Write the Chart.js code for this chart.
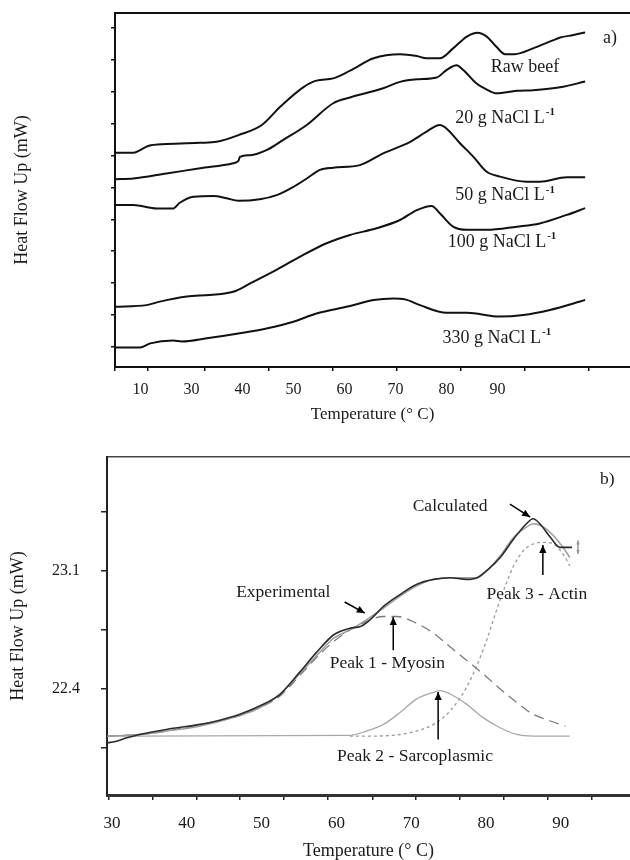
<!DOCTYPE html>
<html>
<head>
<meta charset="utf-8">
<script src="https://cdn.jsdelivr.net/npm/chart.js@4.4.1/dist/chart.umd.min.js"></script>
<style>
  html, body { margin: 0; padding: 0; background: #fff; overflow: hidden; }
  #wrapA { position: absolute; left: 0; top: 0; width: 630px; height: 440px; }
  #wrapB { position: absolute; left: 0; top: 440px; width: 630px; height: 428px; }
</style>
</head>
<body>
<div id="wrapA"><canvas id="chartA" width="630" height="440"></canvas></div>
<div id="wrapB"><canvas id="chartB" width="630" height="428"></canvas></div>
<script>
const FONT = "'Liberation Serif', 'Times New Roman', serif";
const INK = '#1a1a1a';

// ---- panel a) : DSC thermograms, raw beef and brined samples ----
const tRaw  = [15.0, 18.6, 21.5, 25.1, 31.7, 34.9, 39.2, 43.8, 47.4, 51.9, 54.5, 57.8, 61.1, 65.7, 70.9, 74.2, 76.1, 78.7, 81.3, 84.0, 86.1, 87.9, 89.8, 91.5, 93.4, 97.0, 101.0, 102.3, 104.9, 107.2];
const hfRaw = [6.72, 6.72, 6.93, 6.99, 7.03, 7.06, 7.27, 7.59, 8.16, 8.77, 8.98, 9.05, 9.29, 9.68, 9.81, 9.75, 9.68, 9.68, 9.99, 10.36, 10.48, 10.36, 10.04, 9.81, 9.81, 9.99, 10.25, 10.33, 10.41, 10.49];

const t20  = [15.0, 18.6, 25.1, 31.7, 38.2, 39.2, 39.5, 41.5, 44.7, 48.0, 52.6, 57.8, 61.1, 67.6, 70.9, 74.2, 78.1, 80.0, 82.0, 83.3, 85.9, 87.9, 89.8, 93.8, 97.0, 102.3, 107.2];
const hf20 = [5.89, 5.91, 6.07, 6.23, 6.39, 6.46, 6.59, 6.64, 6.80, 7.12, 7.59, 8.27, 8.45, 8.74, 8.94, 9.02, 9.08, 9.31, 9.46, 9.31, 8.89, 8.70, 8.58, 8.66, 8.68, 8.77, 8.95];

const t50  = [15.0, 18.6, 23.2, 26.4, 27.7, 30.4, 34.3, 36.9, 39.2, 43.4, 46.7, 50.0, 52.6, 55.2, 57.8, 63.0, 67.6, 72.9, 76.1, 78.7, 80.0, 82.7, 85.3, 87.9, 90.5, 95.7, 98.3, 103.6, 107.2];
const hf50 = [5.08, 5.08, 4.97, 4.97, 5.15, 5.34, 5.36, 5.29, 5.21, 5.26, 5.39, 5.65, 5.91, 6.18, 6.25, 6.33, 6.70, 7.06, 7.38, 7.59, 7.48, 7.01, 6.59, 6.12, 5.97, 5.81, 5.81, 5.95, 5.95];

const t100  = [15.0, 21.2, 23.8, 29.1, 33.6, 38.2, 41.5, 46.0, 51.3, 56.5, 61.1, 66.3, 70.9, 74.2, 77.1, 78.7, 81.3, 84.0, 87.9, 93.8, 98.3, 103.6, 107.2];
const hf100 = [1.89, 1.94, 2.05, 2.21, 2.26, 2.36, 2.62, 2.99, 3.46, 3.88, 4.14, 4.35, 4.61, 4.92, 5.05, 4.82, 4.40, 4.30, 4.30, 4.40, 4.50, 4.77, 4.98];

const t330  = [15.0, 19.9, 21.9, 26.4, 28.1, 33.0, 39.5, 44.7, 50.0, 54.5, 61.1, 65.7, 69.6, 71.9, 74.8, 80.0, 84.0, 90.5, 95.1, 100.3, 107.2];
const hf330 = [0.61, 0.61, 0.74, 0.83, 0.80, 0.90, 1.06, 1.21, 1.42, 1.68, 1.91, 2.10, 2.15, 2.12, 1.94, 1.70, 1.70, 1.58, 1.63, 1.79, 2.10];

// axis a): tick marks and the (oddly placed) tick labels of the original
const xTickMarksA = [15, 21.5, 32.6, 45.1, 57.7, 70.2, 82.8, 95.3, 107.9];
const xLabelPosA  = [20, 30, 40, 50, 60, 70, 80, 90];
const xLabelsA    = ['10', '30', '40', '50', '60', '70', '80', '90'];
const yTickMarksA = [0.63, 1.63, 2.63, 3.63, 4.63, 5.63, 6.63, 7.63, 8.63, 9.63, 10.63];

// ---- panel b) : deconvolution of the raw beef thermogram ----
const tExp  = [29.4, 30.6, 32.0, 33.7, 37.3, 41.8, 44.0, 47.1, 49.8, 52.5, 55.1, 57.4, 59.6, 61.8, 63.2, 64.5, 66.3, 68.5, 70.7, 73.0, 75.2, 77.4, 78.8, 80.3, 81.9, 83.7, 85.4, 86.3, 87.2, 88.6, 89.9, 91.5];
const hfExp = [22.08, 22.09, 22.11, 22.13, 22.16, 22.19, 22.21, 22.25, 22.30, 22.37, 22.50, 22.62, 22.72, 22.76, 22.77, 22.81, 22.89, 22.96, 23.02, 23.05, 23.06, 23.05, 23.06, 23.11, 23.18, 23.29, 23.38, 23.41, 23.38, 23.30, 23.24, 23.24];

const tCalc  = [29.4, 33.7, 37.3, 41.8, 46.2, 49.8, 52.5, 55.1, 57.4, 59.6, 61.8, 64.0, 66.3, 68.5, 70.7, 73.0, 75.2, 77.4, 78.8, 80.3, 81.9, 83.7, 85.4, 86.3, 87.7, 89.0, 90.3, 91.2];
const hfCalc = [22.12, 22.13, 22.15, 22.18, 22.23, 22.29, 22.37, 22.49, 22.60, 22.70, 22.75, 22.81, 22.88, 22.95, 23.01, 23.05, 23.06, 23.06, 23.06, 23.11, 23.19, 23.30, 23.36, 23.38, 23.36, 23.31, 23.24, 23.18];

const tMyo  = [29.4, 33.7, 37.3, 41.8, 46.2, 49.8, 52.5, 55.1, 57.4, 59.6, 61.8, 64.0, 66.3, 68.1, 70.7, 73.0, 75.2, 77.4, 79.6, 81.9, 84.1, 86.3, 88.6, 90.6];
const hfMyo = [22.12, 22.13, 22.15, 22.19, 22.23, 22.29, 22.36, 22.48, 22.59, 22.68, 22.75, 22.80, 22.83, 22.83, 22.79, 22.73, 22.65, 22.57, 22.49, 22.40, 22.32, 22.25, 22.21, 22.18];

const tSarc  = [29.4, 61.8, 64.0, 66.3, 68.5, 70.7, 73.0, 73.9, 75.2, 77.4, 79.6, 81.9, 84.1, 86.3, 91.2];
const hfSarc = [22.12, 22.125, 22.15, 22.19, 22.26, 22.34, 22.38, 22.39, 22.37, 22.31, 22.23, 22.17, 22.13, 22.12, 22.12];

const tAct  = [61.8, 64.0, 68.5, 70.7, 73.0, 75.2, 77.4, 79.6, 81.9, 83.7, 85.0, 86.3, 87.7, 89.0, 90.3, 91.2];
const hfAct = [22.12, 22.12, 22.13, 22.15, 22.19, 22.27, 22.41, 22.63, 22.93, 23.13, 23.22, 23.26, 23.27, 23.26, 23.20, 23.13];

const xTickMarksB = [29.5, 35.4, 41.3, 47.1, 53.0, 58.9, 64.8, 70.6, 76.5, 82.4, 88.3, 94.2];
const xLabelsB    = [30, 40, 50, 60, 70, 80, 90];
const yTickMarksB = [22.05, 22.4, 22.75, 23.1, 23.45];
const yLabelsB    = [22.4, 23.1];

const pts = (xs, ys) => xs.map((x, i) => ({ x, y: ys[i] }));
const font = (size) => ({ family: FONT, size });

/**
 * Plugin drawing the in-plot captions and arrows, positioned in data units.
 */
const annotate = (texts, arrows, size) => ({
    id: 'annot',
    afterDatasetsDraw(chart) {
        const { ctx, scales: { x, y } } = chart;
        ctx.save();
        ctx.textBaseline = 'middle';
        ctx.textAlign = 'left';
        texts.forEach(({ text, sup, tx, ty }) => {
            const px = x.getPixelForValue(tx), py = y.getPixelForValue(ty);
            ctx.font = `${size}px ${FONT}`;
            const w1 = ctx.measureText(text).width;
            ctx.font = `${Math.round(size * 0.62)}px ${FONT}`;
            const w2 = sup ? ctx.measureText(sup).width + 1 : 0;
            const left = px - (w1 + w2) / 2;
            ctx.fillStyle = INK;
            ctx.font = `${size}px ${FONT}`;
            ctx.fillText(text, left, py);
            if (sup) {
                ctx.font = `bold ${Math.round(size * 0.62)}px ${FONT}`;
                ctx.fillText(sup, left + w1 + 1, py - size * 0.3);
            }
        });
        arrows.forEach(({ x1, y1, x2, y2, color = '#000', both = false, head = 8 }) => {
            const a = [x.getPixelForValue(x1), y.getPixelForValue(y1)];
            const b = [x.getPixelForValue(x2), y.getPixelForValue(y2)];
            ctx.strokeStyle = color;
            ctx.fillStyle = color;
            ctx.lineWidth = 1.5;
            ctx.beginPath();
            ctx.moveTo(a[0], a[1]);
            ctx.lineTo(b[0], b[1]);
            ctx.stroke();
            const tip = (p, q) => {
                const ang = Math.atan2(p[1] - q[1], p[0] - q[0]);
                ctx.beginPath();
                ctx.moveTo(p[0], p[1]);
                ctx.lineTo(p[0] - head * Math.cos(ang) + head * 0.45 * Math.sin(ang), p[1] - head * Math.sin(ang) - head * 0.45 * Math.cos(ang));
                ctx.lineTo(p[0] - head * Math.cos(ang) - head * 0.45 * Math.sin(ang), p[1] - head * Math.sin(ang) + head * 0.45 * Math.cos(ang));
                ctx.closePath();
                ctx.fill();
            };
            tip(b, a);
            if (both) tip(a, b);
        });
        ctx.restore();
    }
});

const curve = (data, color, width, dash = []) => ({
    data, borderColor: color, borderWidth: width, borderDash: dash,
    pointRadius: 0, fill: false, cubicInterpolationMode: 'monotone'
});

// ---------------- chart a ----------------
new Chart(document.getElementById('chartA'), {
    type: 'line',
    data: {
        datasets: [
            curve(pts(tRaw, hfRaw), '#111', 2),
            curve(pts(t20, hf20), '#111', 2),
            curve(pts(t50, hf50), '#111', 2),
            curve(pts(t100, hf100), '#111', 2),
            curve(pts(t330, hf330), '#111', 2)
        ]
    },
    options: {
        responsive: false,
        animation: false,
        layout: { padding: { left: 7, top: 13, right: 0, bottom: 13 } },
        plugins: { legend: { display: false }, tooltip: { enabled: false } },
        scales: {
            x: {
                type: 'linear', position: 'bottom', min: 15, max: 116, weight: 0,
                afterBuildTicks: s => { s.ticks = xTickMarksA.map(value => ({ value })); },
                ticks: { display: false },
                grid: { drawOnChartArea: false, drawTicks: true, tickLength: 4, color: '#111', lineWidth: 1.5 },
                border: { display: true, color: '#111', width: 2 },
                afterFit: s => { s.height = 5; }
            },
            xl: {
                type: 'linear', position: 'bottom', min: 15, max: 116, weight: 1,
                afterBuildTicks: s => { s.ticks = xLabelPosA.map(value => ({ value })); },
                ticks: { callback: (v, i) => xLabelsA[i], font: font(16), color: INK, padding: 8, maxRotation: 0, autoSkip: false },
                grid: { display: false, drawTicks: false },
                border: { display: false },
                title: { display: true, text: 'Temperature (° C)', font: font(17), color: INK, padding: { top: 0, bottom: 2 } },
                afterFit: s => { s.height = 55; s.paddingLeft = 0; s.paddingRight = 0; }
            },
            xTop: {
                type: 'linear', position: 'top', min: 15, max: 116,
                ticks: { display: false },
                grid: { display: false, drawTicks: false },
                border: { display: true, color: '#111', width: 2 },
                afterFit: s => { s.height = 0; }
            },
            y: {
                type: 'linear', min: 0, max: 11.1,
                afterBuildTicks: s => { s.ticks = yTickMarksA.map(value => ({ value })); },
                ticks: { display: false },
                grid: { drawOnChartArea: false, drawTicks: true, tickLength: 4, color: '#111', lineWidth: 1.5 },
                border: { display: true, color: '#111', width: 2 },
                title: { display: true, text: 'Heat Flow Up (mW)', font: font(18), color: INK },
                afterFit: s => { s.width = 108; s.paddingTop = 0; s.paddingBottom = 0; }
            }
        }
    },
    plugins: [annotate([
        { text: 'a)', tx: 112.1, ty: 10.31 },
        { text: 'Raw beef', tx: 95.4, ty: 9.40 },
        { text: '20 g NaCl L', sup: '-1', tx: 91.5, ty: 7.81 },
        { text: '50 g NaCl L', sup: '-1', tx: 91.5, ty: 5.39 },
        { text: '100 g NaCl L', sup: '-1', tx: 90.9, ty: 3.92 },
        { text: '330 g NaCl L', sup: '-1', tx: 89.9, ty: 0.91 }
    ], [], 18)]
});

// ---------------- chart b ----------------
new Chart(document.getElementById('chartB'), {
    type: 'line',
    data: {
        datasets: [
            curve(pts(tExp, hfExp), '#2b2b2b', 1.6),
            curve(pts(tCalc, hfCalc), '#9c9c9c', 1.5),
            curve(pts(tMyo, hfMyo), '#7a7a7a', 1.3, [10, 6]),
            curve(pts(tSarc, hfSarc), '#a8a8a8', 1.3),
            curve(pts(tAct, hfAct), '#9a9a9a', 1.3, [3, 3])
        ]
    },
    options: {
        responsive: false,
        animation: false,
        layout: { padding: { left: 3, top: 17, right: 0, bottom: 4 } },
        plugins: { legend: { display: false }, tooltip: { enabled: false } },
        scales: {
            x: {
                type: 'linear', position: 'bottom', min: 29.33, max: 99.25, weight: 0,
                afterBuildTicks: s => { s.ticks = xTickMarksB.map(value => ({ value })); },
                ticks: { display: false },
                grid: { drawOnChartArea: false, drawTicks: true, tickLength: 5, color: '#222', lineWidth: 1.5 },
                border: { display: true, color: '#333', width: 3 },
                afterFit: s => { s.height = 5; }
            },
            xl: {
                type: 'linear', position: 'bottom', min: 29.33, max: 99.25, weight: 1,
                afterBuildTicks: s => { s.ticks = xLabelsB.map(value => ({ value })); },
                ticks: { callback: v => String(v), font: font(17), color: INK, padding: 13, maxRotation: 0, autoSkip: false },
                grid: { display: false, drawTicks: false },
                border: { display: false },
                title: { display: true, text: 'Temperature (° C)', font: font(18), color: INK, padding: { top: 0, bottom: 2 } },
                afterFit: s => { s.height = 64; s.paddingLeft = 0; s.paddingRight = 0; }
            },
            xTop: {
                type: 'linear', position: 'top', min: 29.33, max: 99.25,
                ticks: { display: false },
                grid: { display: false, drawTicks: false },
                border: { display: true, color: '#444', width: 1.5 },
                afterFit: s => { s.height = 0; }
            },
            y: {
                type: 'linear', min: 21.771, max: 23.776,
                afterBuildTicks: s => { s.ticks = yTickMarksB.map(value => ({ value })); },
                ticks: { callback: v => yLabelsB.includes(v) ? v.toFixed(1) : '', font: font(16), color: INK, padding: 21 },
                grid: { drawOnChartArea: false, drawTicks: true, tickLength: 6, color: '#222', lineWidth: 1.5 },
                border: { display: true, color: '#222', width: 2 },
                title: { display: true, text: 'Heat Flow Up (mW)', font: font(18), color: INK },
                afterFit: s => { s.width = 104; s.paddingTop = 0; s.paddingBottom = 0; }
            }
        }
    },
    plugins: [annotate([
        { text: 'b)', tx: 96.2, ty: 23.646 },
        { text: 'Calculated', tx: 75.2, ty: 23.48 },
        { text: 'Experimental', tx: 52.9, ty: 22.97 },
        { text: 'Peak 1 - Myosin', tx: 66.8, ty: 22.554 },
        { text: 'Peak 2 - Sarcoplasmic', tx: 70.5, ty: 21.997 },
        { text: 'Peak 3 - Actin', tx: 86.8, ty: 22.958 }
    ], [
        { x1: 83.2, y1: 23.497, x2: 85.9, y2: 23.42 },
        { x1: 61.1, y1: 22.916, x2: 63.8, y2: 22.85 },
        { x1: 67.6, y1: 22.63, x2: 67.6, y2: 22.827 },
        { x1: 73.6, y1: 22.10, x2: 73.6, y2: 22.382 },
        { x1: 87.6, y1: 23.076, x2: 87.6, y2: 23.254 },
        { x1: 92.3, y1: 23.20, x2: 92.3, y2: 23.28, color: '#999', both: true, head: 4 }
    ], 17.5)]
});
</script>
</body>
</html>
